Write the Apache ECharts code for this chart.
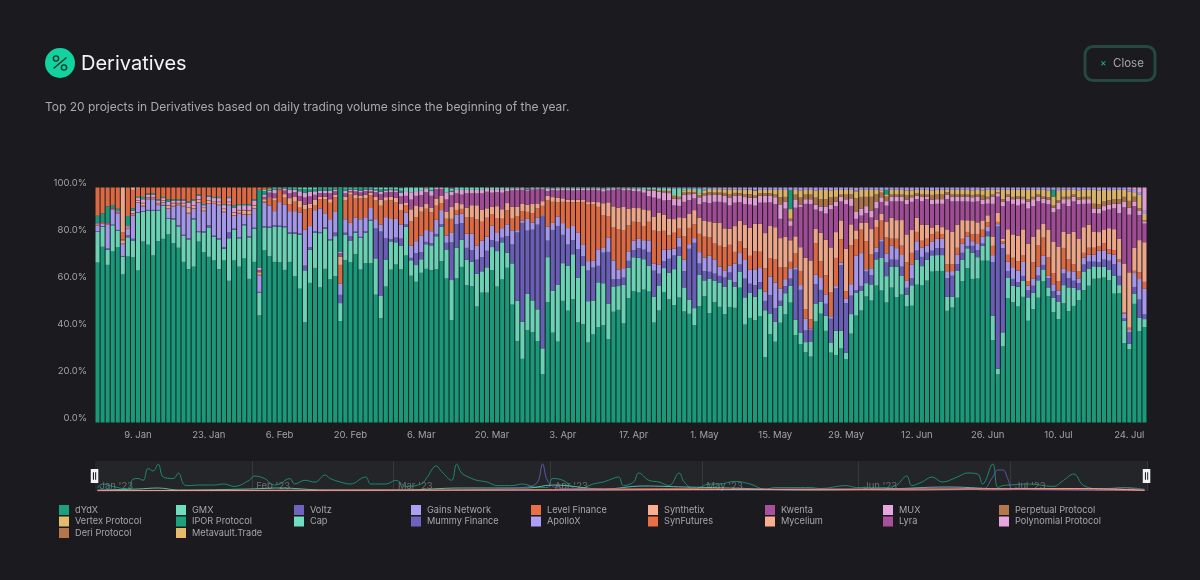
<!DOCTYPE html>
<html><head><meta charset="utf-8"><style>html,body{margin:0;padding:0;background:#1b1b1f}#c{width:1200px;height:580px}</style>
<script src="https://cdn.jsdelivr.net/npm/echarts@6/dist/echarts.min.js"></script></head><body><div id="c"></div>
<script>
const tickLabels=['9. Jan','23. Jan','6. Feb','20. Feb','6. Mar','20. Mar','3. Apr','17. Apr','1. May','15. May','29. May','12. Jun','26. Jun','10. Jul','24. Jul'];
const yTicks=[0,20,40,60,80,100];
const monthLabels=["Jan '23","Feb '23","Mar '23","Apr '23","May '23","Jun '23","Jul '23"];
const monthStarts=[0,31,59,90,120,151,181];
const dydx=[68,74.7,67,73,74.5,62.5,70,71,65,77,75.5,71,77,78,80,76,74,68,65,66,77,72,70.5,69,65,69,60,69,66,69.5,60.5,68,45.5,73.5,71,68,68,64.5,68,62,57,42,59,65.5,57.5,65,61,62,43,69,68,71.5,65.5,67.5,67.5,54.5,44.5,57.7,65,67.5,65.5,
70,60.5,59,63,65,64.5,65,68.5,60,43.5,61,65.5,58,57.7,49,55,55,64.5,57.5,60.5,65.5,50,34.6,27,39.5,38.3,34.6,20.5,51,38.3,34.3,51.6,47.4,52.3,42.4,41.8,33.9,37.4,40.4,41.4,35.3,47,47.4,42,52.8,55.6,55,56,56.6,42.4,47.8,56,52.5,51.6,55,48,46.8,41.7,51,55,47.8,52,50,46.4,50,49,58.4,42,45,45,45.5,28,38.3,35,
41.4,46,50,36.7,33,30,28,42,45.7,38.6,29.4,28.7,31.5,26.8,38.6,46.4,47.8,54,52.8,59,56.6,52.8,58,53.8,55,50,50.4,59,59.4,61,65,65,65,48,49.5,53.8,60.6,66,62,62,69.8,69.8,35.3,21,32.6,53.5,51.3,50,54,43.5,48.5,53.8,62,54.6,49,44.7,51.3,48,50,52.8,56.7,59,62,62,62.3,61.3,55.6,55.6,34,31.8,51.3,40,41];
const gmx=[13,8.5,6.5,11,7,7.5,8,7,24.6,12.6,14.5,19,13,14,6.5,10,9,11,12.6,20,4,8.4,12.5,10,12.6,5,18,13,12,14,17.5,14,9.5,9.8,12,15,15,18,12,18,23,21.7,14,15,23,17,16.6,17,7.6,10.7,9,9,13.5,13,18,15.5,9.5,11.5,12,9.5,10,
12,6.4,7,5.7,10.4,10.5,14,14.7,11.8,17,13,11.4,10.8,10.3,13.8,9,10.7,9.7,15,15.7,6.4,17.5,17,15.7,15.4,13.5,13.5,11,19,17.8,24,16,19,19,19,24.8,17.5,14.4,19,17.8,15,10.7,10,16.4,12.8,14.3,14.7,12.8,11,11,10.7,10.3,11.3,15.8,18.3,10.4,6,7.3,13.6,6.8,15,9.3,10.4,11.7,11.9,8.9,7,11.7,10.7,10.4,11.6,20,8.9,8.6,
7.1,9,7,6.5,5,4.3,6.4,7.4,5,6.4,4.3,10.4,7.5,2.8,8.5,10,8.5,5.7,7,11.3,14,11.6,9,13,8,5,8.8,10.6,8.2,9,7,6.8,6.8,6,4.7,11.5,9.2,8.5,11.3,9.2,6.4,10.6,10.4,2.5,6,8.8,7,8.5,7,10,7,7.5,5.2,3.8,6.4,7.4,7.8,10.2,7.8,4.3,8,7.4,5.4,5,4.7,4.3,7.8,3.5,9.5,2.3,4.3,5.7,3.4];
const voltz=[.3,.3,.5,.3,.3,.3,1,1,.3,.3,.3,.3,.3,.3,.3,.5,.5,.5,.5,.5,.5,.5,1,.5,.5,.5,2.5,.5,.5,.5,.5,.5,.5,.5,.5,.5,.5,.5,.5,.5,.5,2,1,.5,.5,.5,.5,1.5,3.5,1,2,.5,.5,.5,.5,12.7,27.5,9,1,2,3,
1,1,5,3,1,1,1,1,3,16,10,7,5,5,6,6,7,3,4,2,7,8,29,42,27,30,36,56,7,26,25,12,9,6,12,4,13,14,7,13,22,3,3,3,3,3,4,4,6,11,5,3,6,6,4,7,22,28,5,4,3,3,3,4,3,2,3,8,4,5,3,4,8,6,
2,3,3,21,18,5,5,8,5,5,10,18,28,21,8,1,2,5,4,3,7,6,3,3,4,3,3,4,4,3,2,3,3,8,9,3,3,1,3,3,1,2,23,62,36,3,3,2,2,3,3,2,2,4,3,3,5,4,3,3,3,3,2,2,3,4,5,4,1,5,3,8,2];
const gains=[2.5,1,10,6.5,7,5,2.5,10,4,2,4.5,4.5,2,1,4,5,8.5,12,10.5,4,12,8.5,9,13.5,14,15,11.5,5.5,10,4,9,8,7,10,9,6,10,9,9,9,9,15,9,9,10,6,8.5,9,4.7,5.7,5.7,6,7.5,6,5,4,3,9,8.5,8,6,
5,5,5,7,5,5,6,6,3,4,4,4,6,7,6,7,6,6,4,4,5,6,1,1,5,3,3,.5,6,3,4,5,7,6,7,5,4,3,7,2,6,8,4,4,4,4,4,4,5,3,4,5,4,3,4,5,2,2,5,6,7,6,4,3,3,8,5,8,6,7,6,4,8,11,
5,3,4,1,2,5,.5,4,5,4,1,1,1,2,5,15,14,1,3,2,1,4,6,5,5,3,6,4,4,3,4,4,4,3,2,4,4,4,2,3,3,2,3,1,2,4,5,5,6,2,3,4,4,1,3,2,2,3,4,2,3,3,3,5,4,3,4,6,2,1,6,9,11];
const level=[.3,.3,.3,.3,.3,.3,.3,.3,.3,.3,.3,.3,.3,.3,.3,.3,.3,.3,.3,.3,.3,.3,.3,.3,.3,.3,.3,.3,.3,.3,.3,.3,.3,.5,3,4.5,5,3,3,4,2,8.5,7.5,2,4,6,7,6,8,8,12,8,9,8,5.5,8,8,7,8,7,6,
3,10,10,10,9,8,6,3,7,6,2,2,7,7,11,8,8,5,6,4,6,5,6,4,3,4,4,4,11,9,6,9,11,10,13,18,24,24,18,14,9,14,17,16,11,8,7,6,8,14,14,8,6,7,4,10,7,6,8,9,8,7,9,10,9,5,5,5,6,8,7,10,8,10,
9,5,3,6,6,4,4,13,7,8,10,12,10,3,17,7,10,12,6,9,8,7,3,4,4,8,5,4,3,3,3,3,2,3,3,3,2,2,3,4,3,2,4,1,1,3,4,4,3,2,7,9,8,8,5,4,9,5,3,3,2,3,3,2,3,2,2,1,.5,1,1,3,3];
const synthetix=[.3,.2,.2,.1,.2,1,.5,.5,.5,1,.5,.5,.5,.5,1,1,.5,1,2,1,1,1,1,.5,1,1,1,1,1,1.5,1.5,1,1,1,.5,1,.3,1.5,2.5,2,3,2,2,2.5,1,1,1.5,1,3.5,1.5,1,1.5,1,1.5,1,1.5,2.5,1.5,1.5,2,3,
1,5,5,2,2,2,3,3,3,5,3,2,4,5,6,5,4,3,5,4,3,5,4,3,3,4,2,2,2,2,2,1.5,1,1,1,1,1,1,2,5,6,9,9,10,7,6,6,7,5,6,8,7,7,6,5,8,6,6,7,7,7,9,10,8,7,11,9,10,12,12,12,15,14,14,
12,13,9,7,10,22,25,6,12,15,19,11,8,18,9,4,3,8,11,3,3,7,9,8,11,12,10,6,7,6,3,3,3,15,14,10,8,5,6,5,4,3,4,4,1,11,10,11,11,16,11,7,6,12,14,15,7,11,14,14,11,10,7,6,6,9,9,9,21,24,10,14,17];
const kwenta=[.2,.2,.2,.2,.2,.2,.2,.2,.2,.2,.2,.2,.2,.2,.2,.2,.2,.2,.2,.2,.2,.2,.2,.2,.2,.2,.2,.2,.2,.2,.2,.2,1,1,2,2,.3,1.5,2,2,2,3,3,2,1.5,1.5,2.5,1.5,1.5,1.5,.5,1.5,1.5,1.5,.5,2,2.5,2,2,2.5,3,
3,4,4,5,5,5,4,3,5,5,4,4,6,5,5,7,7,6,6,7,5,7,7,6,6,6,6,5,2,3,3,3.5,4,4,4,4,5,5,5,5,5,7,8,7,8,7,7,7,6,8,6,6,8,6,5,7,6,5,6,8,8,9,9,11,10,10,8,9,10,8,9,13,10,10,
8,12,6,12,17,23,24,8,9,11,16,11,8,19,8,5,3,4,5,5,5,7,7,8,8,13,12,8,10,11,10,9,10,13,13,10,8,8,8,9,7,5,14,7,14,12,13,13,11,15,13,12,9,11,13,16,12,12,13,15,10,9,8,8,8,8,9,11,24,25,18,11,8];
const mux=[.3,.2,.2,.2,.3,.3,.5,1,1,1.5,1,1,1,1,1.5,1,1,1,2,2,1.5,1,1.5,1.5,1.5,1.5,1.5,2,2,2,2,2,1,1,.7,1.5,.3,.8,1.5,1,2,2,2,1.5,1,1,1,.7,.5,1,.5,.7,.7,.7,.7,.8,1,.8,.8,.7,1.5,
2,3,2,2,1.5,2,.5,.4,3,1.5,1.5,2,1.5,1.5,1.5,1.5,1.2,1.5,1.2,1.5,1,.8,.7,.7,.5,.6,.5,.5,1,.5,.8,.7,.8,.8,.8,.7,.8,.6,.8,1,.8,.7,.3,.8,.7,1,1.2,1.5,2.5,3,3,3.5,3,3,3,3,2.5,2,3,3,3.5,3,3,3,3.5,3,3,3,3,3.5,3,3,3,3,
6,3,2,3.5,1,2,2,2,2,3,2,2,2,2,3,3,3,3,3,3,2,2,2,2,2,2,2,1.5,2,1,2,2,2,2,2,2,2,2,2,2,2,2,3,1.5,2,2,2,3,2,3,3,2,2,2,2,3,2,3,2,2,2,2,2,2,2,2,2,4,2.5,3,2,2,1];
const perpStart=109;
const perp=[.3,.3,.4,.5,.8,1,1,1,.8,.8,1,1,1.2,1,1,1.2,1.5,1.2,1,1.2,1.5,1.2,1,1,1,1.2,
3,2,1,2,3,2,2,3,3,3,3,2,1,2,2,6,5,4,6,3,2,2,1,1,1,2,1,1,1,1,2,2,2,1,1,1,1,1,1,1,2,1,1,.5,1,1,1,1,1,1,1,1,1,1,1,1,1,1,1,1,1,1,2,2,2,2,2,2,2,3,2,1,.5];
const vertexStart=109;
const vertex=[.2,.2,.3,.3,.5,.5,.8,1,1,.8,.8,1,1,1.5,1.5,1.5,2,1.5,1.5,2,2,2,1.5,1.5,1.5,2,
3,3,4,2,3,2,2,3,4,4,3,3,2,2,2,3,3,3,3,2,1,1,2,2,2,2,2,1.5,2,2,2,2,2,1,2,2,2,2,2,2,2,3,2,1,4,2,3,3,3,4,3,2,3,3,4,4,3,3,2,3,3,3,6,6,5,4,4,4,3,4,2,6,3];
const ipor=[3,3.5,7,1,1,.1,4,1,.5,1,.5,.5,.5,.5,1,.5,.5,.5,.5,.5,.5,.5,.5,.5,.5,.5,.5,1,.5,.5,.5,.5,33,1.5,.5,.5,.1,.2,.5,.5,1,1.5,1,1,1,1,1,.5,27,1,.5,.5,1,.5,.5,.5,1,.5,.5,.5,1];
const iporLater=[[66,.5],[70,.4],[85,.3],[137,8],[156,2],[189,3]];
const capStart=33;
const cap=[.5,.5,.5,.2,.3,.5,.5,.6,.7,.8,.6,.4,.4,.5,.4,.3,.5,.5,.5,.4,.4,.5,.7,.8,.8,.6,.7,1,
1.5,2,1.5,1.2,.5,1,.2,.2,2,1,1,1,1,1,1,1,.6,.7,.7,.7,.6,.4,.4,.3,.3,.3,.3,.3,.5,.3,.5,.4,.4,.5,.4,.4,.4,.4,.4,.4,.5,.3,.2,.4,.4,.5,.5,.7,.6,.6,.8,1,.8,3,3,.8,.6,.6,2,.6,.5];
const mummy=[[90,.3],[130,.3],[150,.2]];
const apolloXStart=109;
const apolloX=[.2,.2,.3,.3,.3,.4,.3,.4,.5,.5,.5,.6,.6,.7,.7,.8,.8,.8,.9,.9,.9,1,1,1,1,1,
1,1,1,1,1.2,1,1,1.2,1,1,1.2,1,1,1,1,1.2,1,1,1,1,1.2,1,1,1,1,1,1.2,1,1,1,1.2,1,1,1,1,1,1,1,1.2,1,1,1,1,1,1,1,1,.8,1,1,1,1,1,1.2,1,1,1,1,1,1.2,1,1,1,1,1,1,1,1,1,1,1,1,1];
const synFutures=[12,11,8,7.5,9,3,12,8,3.5,4,2.5,2.5,5,4,5,5,5,5,6,5,3,7,3.5,4,4,7,4,7.5,7,7,7,5,1,1,.5];
const mycelium=[[5,19],[7,1],[8,.5],[120,.2],[160,.2]];
const lyra=[[60,.3],[70,.4],[85,.3],[100,.3]];
const polynomial=[[190,.3],[200,.5],[204,.8],[205,1],[206,2],[207,10]];
const deri=[[150,.2],[175,.2]];
const metavault=[[190,.2],[198,.2]];
const navDydx=[[0,3],[1,7],[3,4.6],[6,1.8],[7,11.8],[8,12.5],[9,10.7],[10,22.5],[11,20],[12,26.8],[13,14],[15,12.5],[16,18],[17,7],[18,5.4],[20,6],[22,6],[23,6],[25,7],[27,4.6],[30,10.7],[31,15],[33,12.5],[35,6],[36,7],[38,12.5],[39,7],[41,10.7],[43,8.9],[45,16],[46,12.5],[48,9],[50,7],[53,14],[54,7],[55,7],[57,7],[59,10.7],[61,4.6],[64,7],[65,12.5],[67,25],[68,19.6],[70,10.7],[71,26.8],[72,18],[74,12.5],[75,10.7],[77,9],[79,5.4],[82,5.4],[84,7],[87,3.5],[89,3.5],[90,12.5],[92,10.7],[95,1.8],[98,7],[100,9],[101,10.7],[103,14],[104,5.4],[106,9],[107,18],[109,10.7],[111,9],[113,5.4],[115,18],[116,9],[118,1.8],[121,7],[123,7],[126,9.6],[129,7],[132,1.8],[134,3.5],[137,3.5],[141,3.5],[143,2.5],[148,5.4],[150,3.5],[156,3.5],[158,6],[160,15],[161,5.4],[163,9],[165,14],[167,9],[170,14],[172,18],[174,17],[175,7],[177,27],[178,3.5],[179,5.4],[181,6.2],[184,7],[189,4.6],[191,10.7],[193,17],[195,5.4],[199,1.8],[203,3.5],[207,1.8]];
const navGmx=[[0,1],[8,2],[12,3],[16,1],[30,2],[36,3],[45,1],[60,1],[72,3],[85,3],[90,6],[100,2],[108,5],[116,4],[125,3],[140,1],[156,2],[168,4],[180,2],[195,2],[207,1]];
const navVoltz=[[0,.2],[40,.2],[60,.3],[72,1],[85,4],[87,9],[88,27],[89,10],[91,3],[100,2],[130,1],[150,1.5],[160,1],[175,2],[177,14],[178,21],[179,21],[180,12],[181,2],[190,1],[207,.5]];
const navLevel=[[0,.5],[60,1],[90,1.5],[100,2],[115,2.5],[130,1.5],[160,1],[175,2],[190,1.5],[207,.5]];
const navKwenta=[[0,.2],[80,.6],[110,1],[125,1.5],[140,2],[155,2],[167,3],[170,3],[176,1],[190,2.5],[196,2],[203,3],[207,1]];
const navSynthetix=[[0,.4],[90,1],[120,1.5],[150,1.8],[170,2],[195,2.5],[207,.7]];

const DAYS=dydx.length;
const green='#1aa27f',mint='#6fddbe',purple='#6f63c0',lav='#ad9ff8',orange='#e96f44',peach='#fbae8f',magenta='#a9509d',pink='#e8a6e0',brown='#b3774b',yellow='#e6bc6c';
function arr(a,start){start=start||0;return i=>(a[i-start]||0);}
function pairs(a){const m={};a.forEach(p=>m[p[0]]=p[1]);return i=>(m[i]||0);}
function both(a,b){return i=>a(i)+b(i);}
const defs=[['dYdX',arr(dydx),green],['GMX',arr(gmx),mint],['Voltz',arr(voltz),purple],['Gains Network',arr(gains),lav],['Level Finance',arr(level),orange],['Synthetix',arr(synthetix),peach],['Kwenta',arr(kwenta),magenta],['MUX',arr(mux),pink],['Perpetual Protocol',arr(perp,perpStart),brown],['Vertex Protocol',arr(vertex,vertexStart),yellow],['IPOR Protocol',both(arr(ipor),pairs(iporLater)),green],['Cap',arr(cap,capStart),mint],['Mummy Finance',pairs(mummy),purple],['ApolloX',arr(apolloX,apolloXStart),lav],['SynFutures',arr(synFutures),orange],['Mycelium',pairs(mycelium),peach],['Lyra',pairs(lyra),magenta],['Polynomial Protocol',pairs(polynomial),pink],['Deri Protocol',pairs(deri),brown],['Metavault.Trade',pairs(metavault),yellow]];
const cats=[];for(let i=0;i<DAYS;i++)cats.push(i);
const totals=cats.map(i=>defs.reduce((s,d)=>s+d[1](i),0));
const series=defs.map(d=>({name:d[0],type:'bar',stack:'share',xAxisIndex:0,yAxisIndex:0,barWidth:'80%',silent:true,itemStyle:{color:d[2],opacity:.94},data:cats.map(i=>d[1](i)/totals[i]*100)}));
[['dYdX',navDydx,green],['GMX',navGmx,mint],['Voltz',navVoltz,purple],['Level Finance',navLevel,orange],['Kwenta',navKwenta,magenta],['Synthetix',navSynthetix,peach]].forEach(n=>series.push({name:n[0],type:'line',xAxisIndex:1,yAxisIndex:1,data:n[1],smooth:.4,showSymbol:false,silent:true,lineStyle:{color:n[2],width:.8},itemStyle:{color:n[2]}}));
const names=defs.map(d=>d[0]);
const colX=[59,176,294,411,531,648,765,883,999];
const legends=colX.map((x,c)=>({type:'plain',orient:'vertical',left:x,top:505,padding:0,itemWidth:10,itemHeight:10,itemGap:1.5,icon:'rect',data:[names[c],names[c+9],names[c+18]].filter(Boolean),textStyle:{color:'#a6a6a8',fontSize:9.2,fontFamily:'Inter',padding:[0,0,0,1]},itemStyle:{opacity:1},selectedMode:false}));
const handle='path://M0 0H7V13H0Z M2 3V10H3V3Z M4 3V10H5V3Z';
const option={animation:false,backgroundColor:'#1b1b1f',
 grid:[{left:95,top:187.5,width:1052,height:235,containLabel:false},{left:95,top:461,width:1052,height:30,show:true,backgroundColor:'#242529',borderWidth:0}],
 xAxis:[{type:'category',gridIndex:0,data:cats,axisLine:{show:false},axisTick:{show:false},splitLine:{show:false},
   axisLabel:{interval:i=>i%14===8,formatter:(v,i)=>tickLabels[(i-8)/14]||'',color:'#a3a3a5',fontSize:9.5,fontFamily:'Inter',margin:8,hideOverlap:false}},
  {type:'category',gridIndex:1,data:cats,axisLine:{show:false},axisTick:{show:false},splitLine:{show:true,interval:i=>monthStarts.includes(i)&&i>0,lineStyle:{color:'#37383c',width:1}},
   axisLabel:{inside:true,interval:i=>monthStarts.includes(i),formatter:(v,i)=>monthLabels[monthStarts.indexOf(i)]||'',align:'left',color:'rgba(255,255,255,.32)',fontSize:9.5,fontFamily:'Inter',margin:0,padding:[0,0,0,2],hideOverlap:false}}],
 yAxis:[{type:'value',gridIndex:0,min:0,max:100,interval:20,axisLine:{show:false},axisTick:{show:false},splitLine:{show:false},
   axisLabel:{formatter:v=>yTicks.includes(v)?v.toFixed(1)+'%':'',color:'#a3a3a5',fontSize:9.5,fontFamily:'Inter',margin:8,verticalAlign:'bottom',lineHeight:9}},
  {type:'value',gridIndex:1,min:0,max:30,show:false}],
 dataZoom:[{type:'slider',xAxisIndex:[0],start:0,end:100,left:93,width:1054,top:461,height:30,showDetail:false,showDataShadow:false,backgroundColor:'transparent',fillerColor:'transparent',borderColor:'transparent',moveHandleSize:0,brushSelect:false,handleIcon:handle,handleSize:14,handleStyle:{color:'#f2f2f2',borderWidth:0},emphasis:{handleStyle:{color:'#f2f2f2',borderWidth:0}}}],
 legend:legends,series,
 graphic:[
  {type:'circle',shape:{cx:60,cy:63,r:15},style:{fill:'#12d3a0'}},
  {type:'circle',shape:{cx:56,cy:58.5,r:2.6},style:{fill:'none',stroke:'#17352e',lineWidth:1.4}},
  {type:'circle',shape:{cx:64,cy:67.5,r:2.6},style:{fill:'none',stroke:'#17352e',lineWidth:1.4}},
  {type:'line',shape:{x1:53.5,y1:68.5,x2:66.5,y2:57.5},style:{stroke:'#17352e',lineWidth:1.4}},
  {type:'text',left:81,top:54,style:{text:'Derivatives',fill:'#f4f4f4',font:'400 20px Inter'}},
  {type:'text',left:45,top:101,style:{text:'Top 20 projects in Derivatives based on daily trading volume since the beginning of the year.',fill:'#a9a9ad',font:'400 12px Inter'}},
  {type:'rect',shape:{x:1085,y:46.5,width:70,height:34,r:8},style:{fill:'none',stroke:'#24493f',lineWidth:3}},
  {type:'text',left:1100,top:58,style:{text:'×',fill:'#1fb88f',font:'400 10px Inter'}},
  {type:'text',left:1113,top:58,style:{text:'Close',fill:'#a8a8aa',font:'400 11.5px Inter'}}
 ]};
echarts.init(document.getElementById('c'),null,{renderer:'canvas'}).setOption(option);
</script></body></html>
